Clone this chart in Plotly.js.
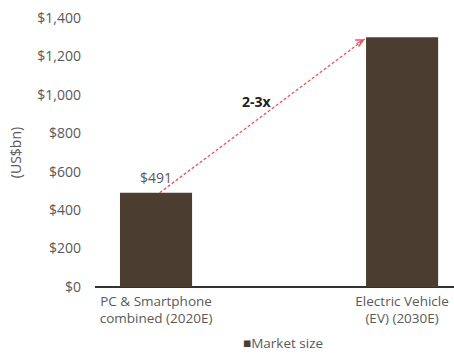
<!DOCTYPE html>
<html>
<head>
<meta charset="utf-8">
<script src="https://cdn.plot.ly/plotly-3.0.1.min.js"></script>
<style>html,body{margin:0;padding:0;background:#fff;}#chart{width:454px;height:354px;}</style>
</head>
<body>
<div id="chart"></div>
<script>
// Data
const categories = ["PC & Smartphone<br>combined (2020E)", "Electric Vehicle<br>(EV) (2030E)"];
const values = [491, 1300];
const dataLabels = ["$491", ""];
const seriesName = "Market size";
const yTickVals = [0, 200, 400, 600, 800, 1000, 1200, 1400];
const yTickText = ["$0", "$200", "$400", "$600", "$800", "$1,000", "$1,200", "$1,400"];
const multiplierLabel = "2-3x";

const barColor = "#4b3e31";
const textColor = "#595959";
const arrowColor = "#e8525c";
const font = "Open Sans, Noto Sans, sans-serif";
const barWidth = 0.293;

const xIdx = categories.map((c, i) => i);

const trace = {
  type: "bar",
  x: xIdx,
  y: values,
  width: barWidth,
  name: seriesName,
  marker: {color: barColor},
  showlegend: false,
  hoverinfo: "none"
};

// arrow from top of first bar to top-left of second bar
const arrowStart = {x: xIdx[0] + 0.015, y: values[0]};
const arrowEnd = {x: xIdx[1] - barWidth / 2 - 0.005, y: values[1] - 10};

const layout = {
  width: 454,
  height: 354,
  margin: {l: 95, r: 0, t: 18, b: 67},
  paper_bgcolor: "#fff",
  plot_bgcolor: "#fff",
  font: {family: font, color: textColor, size: 14},
  xaxis: {
    range: [-0.248, 1.211],
    tickvals: xIdx,
    ticktext: categories,
    showgrid: false,
    zeroline: false,
    showline: false,
    ticks: "",
    ticklabelstandoff: 4,
    tickfont: {size: 13.5, color: textColor},
    fixedrange: true
  },
  yaxis: {
    range: [0, 1400],
    tickvals: yTickVals,
    ticktext: yTickText,
    showgrid: false,
    zeroline: true,
    zerolinecolor: "#333",
    zerolinewidth: 1.2,
    showline: false,
    ticks: "",
    ticklabelstandoff: 13,
    tickfont: {size: 14, color: textColor},
    title: {text: "(US$bn)", font: {size: 14, color: textColor}, standoff: 12},
    fixedrange: true
  },
  showlegend: false,
  shapes: [{
    type: "line",
    xref: "x", yref: "y",
    x0: arrowStart.x, y0: arrowStart.y,
    x1: arrowEnd.x, y1: arrowEnd.y,
    line: {color: arrowColor, width: 1.3, dash: "3px,2px"}
  }],
  annotations: [
    {
      x: xIdx[0], y: values[0], xref: "x", yref: "y",
      text: dataLabels[0], showarrow: false, yanchor: "bottom", yshift: 4,
      font: {size: 14, color: textColor}
    },
    {
      x: arrowEnd.x, y: arrowEnd.y, xref: "x", yref: "y",
      ax: arrowEnd.x - 0.04, ay: arrowEnd.y - 27,
      axref: "x", ayref: "y",
      text: "", showarrow: true, arrowhead: 5, arrowsize: 1.2, arrowwidth: 1.2,
      arrowcolor: arrowColor
    },
    {
      x: 0.41, y: 965, xref: "x", yref: "y",
      text: "<b>" + multiplierLabel + "</b>", showarrow: false,
      font: {size: 14, color: "#222"}
    },
    {
      x: 0.523, y: -0.208, xref: "paper", yref: "paper",
      xanchor: "center", yanchor: "middle",
      text: "<span style='color:" + barColor + "'>■</span>" + seriesName,
      showarrow: false,
      font: {size: 13.5, color: textColor}
    }
  ]
};

Plotly.newPlot("chart", [trace], layout, {displayModeBar: false, staticPlot: true});
</script>
</body>
</html>
